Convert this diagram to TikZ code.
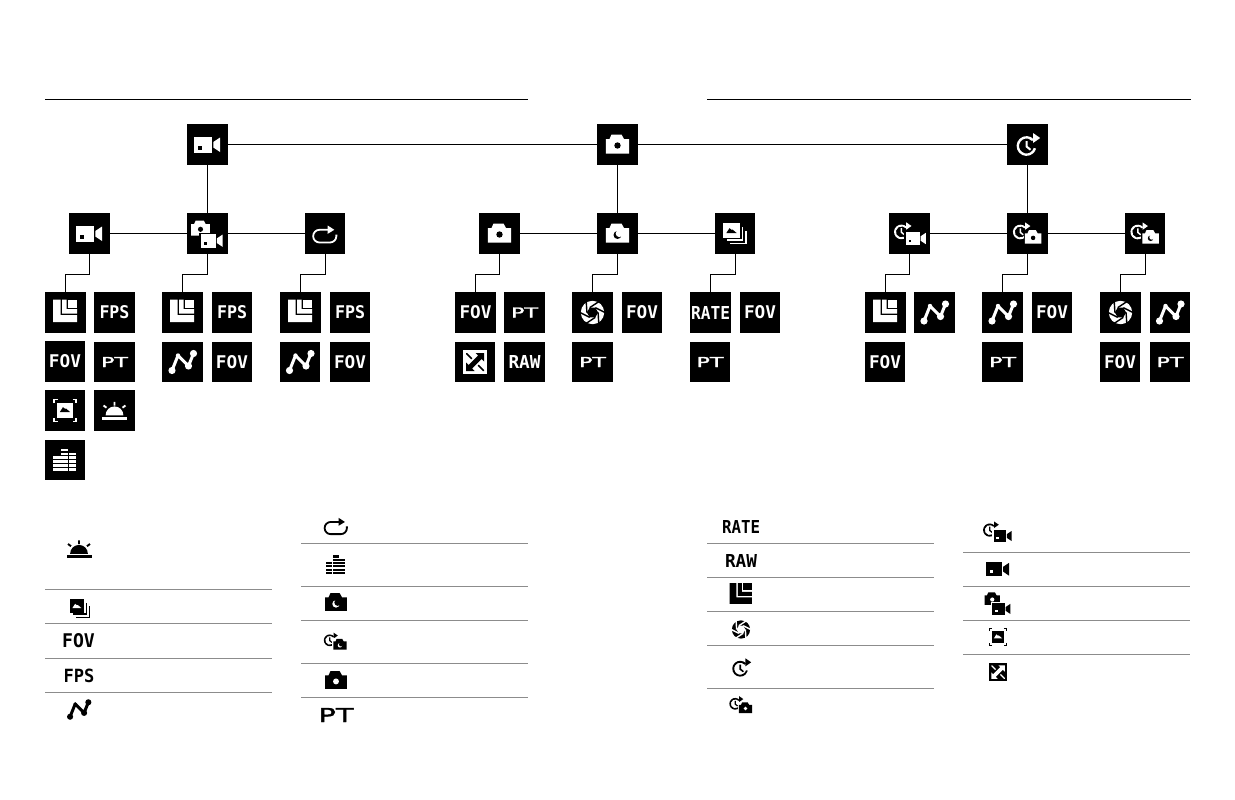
\documentclass[tikz,border=0pt]{standalone}
\usepackage{graphicx}
\usepackage{fontspec}
\setmainfont{DejaVu Sans}
\newfontfamily\lblfont{DejaVu Sans Mono}[BoldFont={DejaVu Sans Mono Bold}]
\newfontfamily\ptfont{DejaVu Sans}[FakeBold=1.6]
\usetikzlibrary{calc}
\definecolor{rulegray}{HTML}{8C8C8C}
\colorlet{icfg}{white}
\colorlet{icbg}{black}
\newcommand\lbl[3]{\resizebox{#2pt}{#3pt}{\lblfont\bfseries #1}}
\newcommand\lblthin[3]{\resizebox{#2pt}{#3pt}{\ptfont #1}}
\newcommand\place[3]{\begin{scope}[shift={#1},scale=#2]#3\end{scope}}
% ---- icons, drawn round (0,0), y pointing down, in pixels
\newcommand\icVideo{%
  \fill[icfg] (-13.2,-7.7) rectangle (4.8,8.3);
  \fill[icfg] (5.8,-2.5) -- (12.5,-7) -- (12.5,7.5) -- (5.8,3) -- cycle;
  \fill[icbg] (-9.2,1.6) rectangle (-5.8,5);}
\newcommand\icCamBody{%
  \fill[icfg] (-11.7,9) -- (-11.7,-5.5) -- (-8,-5.5) -- (-6,-10) -- (4,-10) -- (6.5,-5.5) -- (11.7,-5.5) -- (11.7,9) -- cycle;}
\newcommand\icCam{\icCamBody\fill[icbg] (0,1) circle[radius=3.2];}
\newcommand\icNight{\icCamBody
  \fill[icbg] (0,1.5) circle[radius=4];
  \fill[icfg] (1.8,0) circle[radius=3.6];}
\newcommand\icClock{%
  \begin{scope}[shift={(-1,1.5)}]
  \fill[icfg] (-42:9.9) arc[start angle=-42,end angle=-345,radius=9.9] -- (-345:7.5) arc[start angle=-345,end angle=-42,radius=7.5] -- cycle;
  \fill[icfg] (-1,-5) -- (1,-5) -- (1,0) -- (4.6,3) -- (3.4,4.5) -- (-1,1) -- cycle;
  \end{scope}
  \fill[icfg] (5.5,-11.5) -- (12.7,-6.5) -- (5.5,-1.5) -- cycle;}
\newcommand\icTimeVideo{%
  \place{(-7.4,-2.7)}{.74}{\icClock}
  \fill[icbg] (-5.3,-3) rectangle (18,12);
  \place{(6.5,4.8)}{.78}{\icVideo}}
\newcommand\icTimeCam{%
  \place{(-6.5,-2.6)}{.74}{\icClock}
  \fill[icbg] (-3.8,-4) -- (-3.8,11) -- (15,11) -- (15,-4) -- cycle;
  \place{(5.6,3.7)}{.7}{\icCam}}
\newcommand\icTimeNight{%
  \place{(-6.5,-2.6)}{.74}{\icClock}
  \fill[icbg] (-3.8,-4) -- (-3.8,11) -- (15,11) -- (15,-4) -- cycle;
  \place{(5.6,3.7)}{.7}{\icNight}}
\newcommand\icCamVideo{%
  \place{(-7,-5)}{.8}{\icCam}
  \fill[icbg] (-9,-1) rectangle (17,15);
  \place{(4.5,7)}{.85}{\icVideo}}
\newcommand\icLoop{%
  \draw[icfg,line width=1.8pt] (4,-3.7) -- (-5.5,-3.7) arc[start angle=-90,end angle=-270,radius=6.35] -- (5,9) arc[start angle=90,end angle=0,radius=6.35] -- (11.35,1);
  \fill[icfg] (2.7,-8) -- (9.3,-3.7) -- (2.7,.3) -- cycle;}
\newcommand\icBars{%
  \foreach \cx/\n in {-11.7/4,-4/6,3.9/5}{%
    \foreach \r in {1,...,\n}{%
      \fill[icfg] (\cx,{10.7-3.9*(\r-1)}) rectangle ({\cx+7.2},{10.7-3.9*(\r-1)-2.6});}}}
\newcommand\icSun{%
  \fill[icfg] (-12.5,6.2) rectangle (12.5,9.2);
  \fill[icfg] (-8.9,4.8) arc[start angle=180,end angle=360,radius=8.9] -- cycle;
  \draw[icfg,line width=1.9pt] (0,-8.7) -- (0,-5) (-11,-5) -- (-8,-2.8) (11,-5) -- (8,-2.8);}
\newcommand\icMount[1]{%
  \fill[icbg,shift={#1}] (-5.2,2.6) -- (-2,-2.4) -- (0,-0.6) -- (1,-1) -- (5.2,2.6) -- cycle;}
\newcommand\icStack{%
  \fill[icfg] (-11.7,-10.3) rectangle (5,4.7);
  \icMount{(-3.5,-3)}
  \draw[icfg,line width=1.5pt] (7.5,-6.3) -- (7.5,6.5) -- (-8,6.5);
  \draw[icfg,line width=1.5pt] (11,-2.3) -- (11,10) -- (-5,10);}
\newcommand\icFrame{%
  \fill[icfg] (-8.3,-7.7) rectangle (8.3,7.3);
  \icMount{(0,-1)}
  \draw[icfg,line width=1.3pt] (-11,-7.5) -- (-11,-11) -- (-7.5,-11) (7.5,-11) -- (11,-11) -- (11,-7.5)
     (11,7.5) -- (11,11) -- (7.5,11) (-7.5,11) -- (-11,11) -- (-11,7.5);}
\newcommand\icRes{%
  \fill[icfg] (-12.3,-13) -- (-5,-13) -- (-5,2.7) -- (11.7,2.7) -- (11.7,9.7) -- (-12.3,9.7) -- cycle;
  \fill[icfg] (-3.3,-13) -- (1,-13) -- (1,-3.3) -- (11.7,-3.3) -- (11.7,1) -- (-3.3,1) -- cycle;
  \fill[icfg] (2.3,-13) rectangle (11.7,-5);}
\newcommand\icPath{%
  \draw[icfg,line width=3pt,line join=round] (-10.5,8.5) -- (-4.5,-6.5) -- (6,4) -- (11,-8.5);
  \fill[icfg] (-10.5,8.5) circle[radius=3.6] (6,4) circle[radius=3.6] (11,-8.5) circle[radius=3.6] (-4.5,-6.5) circle[radius=2.2];}
\newcommand\icAperture{%
  \fill[icfg] (0,0) circle[radius=11.7];
  \fill[icbg] (0:5.6) -- (60:5.6) -- (120:5.6) -- (180:5.6) -- (240:5.6) -- (300:5.6) -- cycle;
  \foreach \a in {0,60,...,300}{\draw[icbg,line width=1.4pt] (\a:5.6) -- ({\a+60}:12.5);}}
\newcommand\icExpand{%
  \fill[icfg] (-11.8,-11.8) rectangle (11.8,11.8);
  \fill[icbg] (9,-9) -- (0.5,-9) -- (3,-6.5) -- (-3.5,0) -- (-6.5,3) -- (-9,0.5) -- (-9,9) -- (-0.5,9) -- (-3,6.5) -- (0,3.5) -- (6.5,-3) -- (9,-0.5) -- cycle;
  \fill[icbg] (-9,-9) -- (-7.8,-9) -- (-2.6,-3.8) -- (-3.8,-2.6) -- (-9,-7.8) -- cycle;
  \fill[icbg] (9,9) -- (7.8,9) -- (2.6,3.8) -- (3.8,2.6) -- (9,7.8) -- cycle;}
\tikzset{
  boxnode/.style={rectangle,fill=black,text=white,minimum size=40.6pt,inner sep=0pt,outer sep=0pt},
  wire/.style={draw=black,line width=1pt},
  headrule/.style={draw=black,line width=1pt},
  legrule/.style={draw=rulegray,line width=1pt},
  legtext/.style={inner sep=0pt,outer sep=0pt,text=black},
}
\newcommand\FOVb{\lbl{FOV}{32}{13}}
\newcommand\FPSb{\lbl{FPS}{30}{13}}
\newcommand\PTb{\lblthin{PT}{27}{10}}
\newcommand\RATEb{\lbl{RATE}{39}{13}}
\newcommand\RAWb{\lbl{RAW}{32}{13}}
\begin{document}
\begin{tikzpicture}[x=1pt,y=-1pt]
\useasboundingbox (0,0) rectangle (1235,800);
\fill[white] (0,0) rectangle (1235,800);
\coordinate (hl1) at (45,99.5); \coordinate (hl2) at (528,99.5);
\coordinate (hr1) at (707,99.5); \coordinate (hr2) at (1191,99.5);
\draw[headrule] (hl1) -- (hl2) (hr1) -- (hr2);
% top and mode nodes
\foreach \n/\x/\y in {topV/207.5/144.5,topC/617.5/144.5,topT/1027.5/144.5,
  V1/89.5/233.5,V2/207.5/233.5,V3/325/233.5,C1/499.5/233.5,C2/617.5/233.5,C3/735/233.5,
  T1/909.5/233.5,T2/1027.5/233.5,T3/1145/233.5}
  {\node[boxnode] (\n) at (\x,\y) {};}
% leaves
\node[boxnode] (a1) at (65.5,312.5) {};
\node[boxnode] (a2) at (114.5,312.5) {\FPSb};
\node[boxnode] (a3) at (65,361.5) {\FOVb};
\node[boxnode] (a4) at (114.5,362) {\PTb};
\node[boxnode] (a5) at (65,410.5) {};
\node[boxnode] (a6) at (114.5,410.5) {};
\node[boxnode] (a7) at (65,460) {};
\node[boxnode] (b1) at (182.5,312.5) {};
\node[boxnode] (b2) at (232,312.5) {\FPSb};
\node[boxnode] (b3) at (182.5,362) {};
\node[boxnode] (b4) at (232,362) {\FOVb};
\node[boxnode] (c1) at (300.5,312.5) {};
\node[boxnode] (c2) at (350,312.5) {\FPSb};
\node[boxnode] (c3) at (300,362) {};
\node[boxnode] (c4) at (350,362) {\FOVb};
\node[boxnode] (d1) at (475.5,312.5) {\FOVb};
\node[boxnode] (d2) at (524.5,312.5) {\PTb};
\node[boxnode] (d3) at (475,362) {};
\node[boxnode] (d4) at (524.5,362) {\RAWb};
\node[boxnode] (e1) at (592.5,312.5) {};
\node[boxnode] (e2) at (642,312.5) {\FOVb};
\node[boxnode] (e3) at (592.5,362) {\PTb};
\node[boxnode] (f1) at (710.5,312.5) {\RATEb};
\node[boxnode] (f2) at (760,312.5) {\FOVb};
\node[boxnode] (f3) at (710,362) {\PTb};
\node[boxnode] (g1) at (885.5,312.5) {};
\node[boxnode] (g2) at (934.5,312.5) {};
\node[boxnode] (g3) at (885,362) {\FOVb};
\node[boxnode] (h1) at (1002.5,312.5) {};
\node[boxnode] (h2) at (1052,312.5) {\FOVb};
\node[boxnode] (h3) at (1002.5,362) {\PTb};
\node[boxnode] (i1) at (1120.5,312.5) {};
\node[boxnode] (i2) at (1170,312.5) {};
\node[boxnode] (i3) at (1120,362) {\FOVb};
\node[boxnode] (i4) at (1170,362) {\PTb};
% connectors
\draw[wire] (topV) -- (topC); \draw[wire] (topC) -- (topT);
\draw[wire] (topV) -- (V2); \draw[wire] (topC) -- (C2); \draw[wire] (topT) -- (T2);
\foreach \p/\q in {V1/V2,V2/V3,C1/C2,C2/C3,T1/T2,T2/T3}{\draw[wire] (\p) -- (\q);}
\foreach \p/\q in {V1/a1,V2/b1,V3/c1,C1/d1,C2/e1,C3/f1,T1/g1,T2/h1,T3/i1}
  {\draw[wire] (\p.south) -- ++(0,20.7) -| (\q.north);}
% icons in boxes
\place{(topV)}{1}{\icVideo}\place{(topC)}{1}{\icCam}\place{(topT)}{1}{\icClock}
\place{(V1)}{1}{\icVideo}\place{(V2)}{1}{\icCamVideo}\place{(V3)}{1}{\icLoop}
\place{(C1)}{1}{\icCam}\place{(C2)}{1}{\icNight}\place{(C3)}{1}{\icStack}
\place{(T1)}{1}{\icTimeVideo}\place{(T2)}{1}{\icTimeCam}\place{(T3)}{1}{\icTimeNight}
\place{(a1)}{1}{\icRes}\place{(a5)}{1}{\icFrame}\place{(a6)}{1}{\icSun}\place{(a7)}{1}{\icBars}
\place{(b1)}{1}{\icRes}\place{(b3)}{1}{\icPath}
\place{(c1)}{1}{\icRes}\place{(c3)}{1}{\icPath}
\place{(d3)}{1}{\icExpand}
\place{(e1)}{1}{\icAperture}
\place{(g1)}{1}{\icRes}\place{(g2)}{1}{\icPath}
\place{(h1)}{1}{\icPath}
\place{(i1)}{1}{\icAperture}\place{(i2)}{1}{\icPath}
% legend
\foreach \y in {589.5,623.5,658.5,692.5}{\draw[legrule] (45,\y) -- (272,\y);}
\foreach \y in {543.5,586,620.5,663.5,697.5}{\draw[legrule] (301,\y) -- (528,\y);}
\foreach \y in {543.5,577,611.5,645,688}{\draw[legrule] (707,\y) -- (934,\y);}
\foreach \y in {552,586,620,654}{\draw[legrule] (963,\y) -- (1190,\y);}
\colorlet{icfg}{black}\colorlet{icbg}{white}
\place{(79,549)}{1}{\icSun}
\place{(80,608.5)}{.88}{\icStack}
\node[legtext] (lfov) at (78.5,641) {\lbl{FOV}{32.7}{14}};
\node[legtext] (lfps) at (79,676) {\lbl{FPS}{30.7}{13.5}};
\place{(79,709.5)}{.85}{\icPath}
\place{(336,525.5)}{.96}{\icLoop}
\place{(336,565)}{.84}{\icBars}
\place{(336,602.5)}{.93}{\icNight}
\place{(335.5,641.5)}{.8}{\icTimeNight}
\place{(336,680.5)}{.93}{\icCam}
\node[legtext] (lpt) at (336,715) {\lblthin{PT}{35}{14}};
\node[legtext] (lrate) at (741,526.5) {\lbl{RATE}{38}{13}};
\node[legtext] (lraw) at (741,560.5) {\lbl{RAW}{32}{13}};
\place{(741,595)}{.92}{\icRes}
\place{(741,629.5)}{.78}{\icAperture}
\place{(741,667.5)}{.8}{\icClock}
\place{(741,705)}{.8}{\icTimeCam}
\place{(997,531.5)}{.9}{\icTimeVideo}
\place{(998,569)}{.88}{\icVideo}
\place{(998,603)}{.82}{\icCamVideo}
\place{(998,637)}{.78}{\icFrame}
\place{(998,672)}{.75}{\icExpand}
\end{tikzpicture}
\end{document}
